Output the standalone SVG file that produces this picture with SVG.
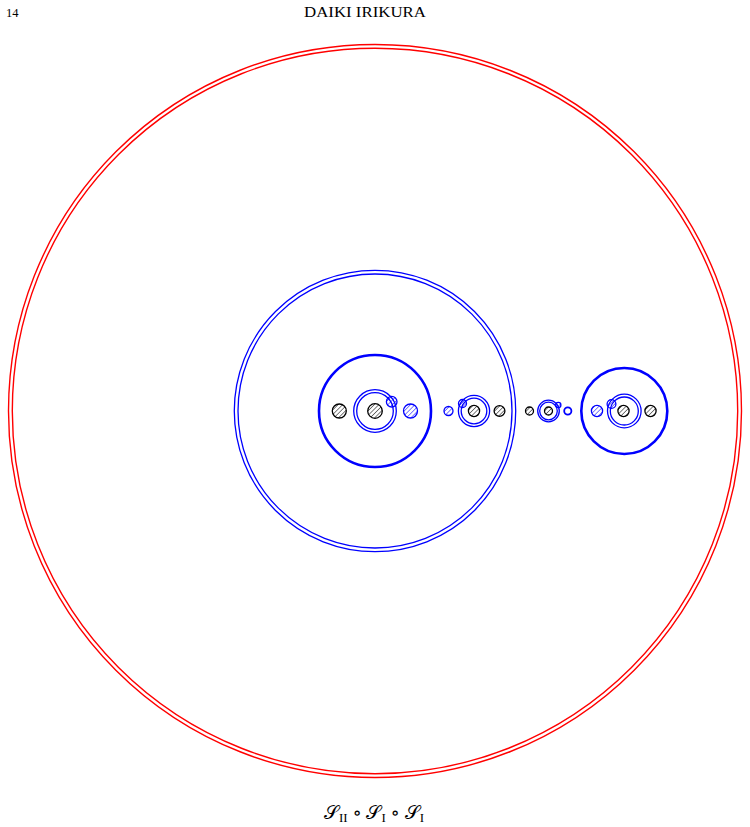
<svg xmlns="http://www.w3.org/2000/svg" width="750" height="827" viewBox="0 0 750 827">
<style>
.red{fill:none;stroke:#ff0000;stroke-width:1.4}
.bl{fill:none;stroke:#0000ff;stroke-width:1.3}
.blt{fill:none;stroke:#0000ff;stroke-width:2.6}
.hk{fill:url(#hatchK);stroke:#000;stroke-width:1.3}
.hb{fill:url(#hatchB);stroke:#0000ff;stroke-width:1.3}
.txt{font-family:"Liberation Serif","DejaVu Serif",serif;fill:#000}
</style>
<defs>
<pattern id="hatchK" width="3.2" height="3.2" patternUnits="userSpaceOnUse" patternTransform="rotate(45)">
<line x1="0" y1="0" x2="0" y2="3.2" stroke="#000" stroke-width="1"/>
</pattern>
<pattern id="hatchB" width="3.2" height="3.2" patternUnits="userSpaceOnUse" patternTransform="rotate(45)">
<line x1="0" y1="0" x2="0" y2="3.2" stroke="#0000ff" stroke-width="1"/>
</pattern>
</defs>
<rect width="750" height="827" fill="#fff"/>
<text class="txt" x="6" y="16.5" font-size="12.5">14</text>
<text class="txt" x="304" y="16.5" font-size="14" textLength="122" lengthAdjust="spacingAndGlyphs">DAIKI IRIKURA</text>

<g id="outer-red">
<circle class="red" cx="375" cy="411" r="366.5"/>
<circle class="red" cx="375" cy="411" r="362.7"/>
</g>
<g id="big-blue">
<circle class="bl" cx="375" cy="411" r="140.7"/>
<circle class="bl" cx="375" cy="411" r="137"/>
</g>
<g id="cluster1">
<circle class="blt" cx="375" cy="411" r="56"/>
<circle class="bl" cx="375" cy="411" r="21.3"/>
<circle class="bl" cx="375" cy="411" r="18.3"/>
<circle class="hk" cx="375" cy="411" r="7.3"/>
<circle class="hk" cx="339.3" cy="411" r="7"/>
<circle class="hb" cx="410.5" cy="411" r="7"/>
<circle class="hb" cx="391.7" cy="401.7" r="5.3"/>
</g>
<g id="cluster2">
<circle class="hb" cx="448.5" cy="411" r="4.5"/>
<circle class="bl" cx="474" cy="411" r="15.6"/>
<circle class="bl" cx="474" cy="411" r="12.8"/>
<circle class="hk" cx="474" cy="411" r="5.6"/>
<circle class="hk" cx="499.5" cy="411" r="5.4"/>
<circle class="hb" cx="462.5" cy="403.5" r="4"/>
</g>
<g id="cluster3">
<circle class="hk" cx="529.5" cy="411" r="4"/>
<circle class="bl" cx="548.5" cy="411" r="10.8"/>
<circle class="bl" cx="548.5" cy="411" r="8.8"/>
<circle class="hk" cx="548.5" cy="411" r="4"/>
<circle class="hb" cx="558.3" cy="405" r="2.6"/>
<circle class="bl" cx="567.8" cy="411" r="3.6" style="stroke-width:1.8"/>
</g>
<g id="cluster4">
<circle class="blt" cx="624.3" cy="411" r="43"/>
<circle class="bl" cx="624.3" cy="411" r="16.8"/>
<circle class="bl" cx="624.3" cy="411" r="14"/>
<circle class="hk" cx="623.5" cy="411" r="5.6"/>
<circle class="hk" cx="650.5" cy="411" r="5.6"/>
<circle class="hb" cx="597" cy="411" r="5.6"/>
<circle class="hb" cx="611.5" cy="404" r="4.4"/>
</g>
<g id="connectors"/>
<text class="txt" x="374" y="819" font-size="19" text-anchor="middle">𝒮<tspan font-size="13" dy="3">II</tspan><tspan dy="-3"> ∘ </tspan>𝒮<tspan font-size="13" dy="3">I</tspan><tspan dy="-3"> ∘ </tspan>𝒮<tspan font-size="13" dy="3">I</tspan></text>
</svg>
